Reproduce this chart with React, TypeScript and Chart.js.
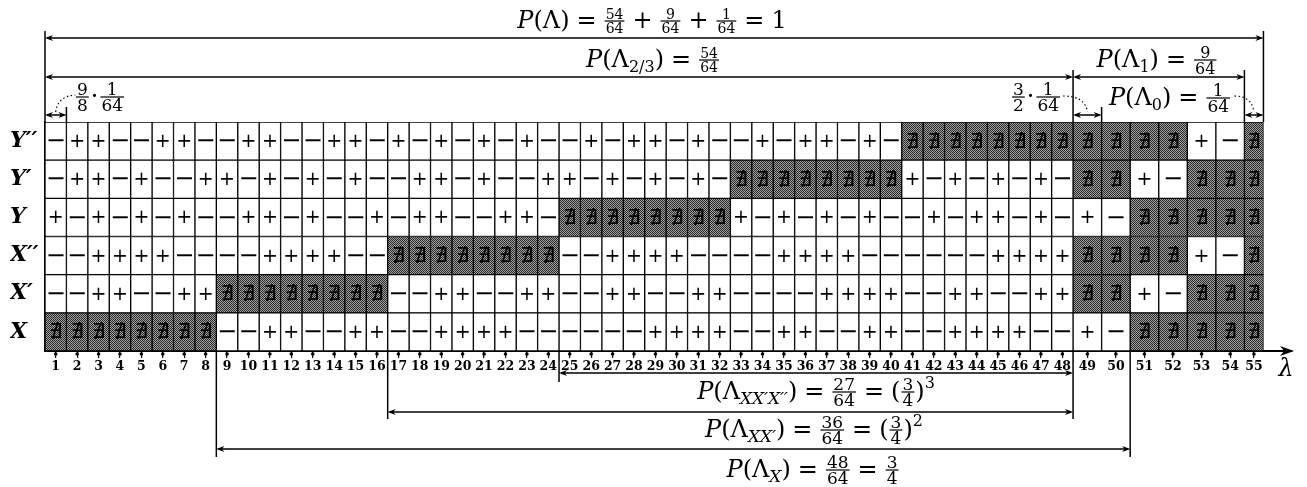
import React, { useEffect, useRef } from 'react';
import { Chart, registerables } from 'chart.js';
Chart.register(...registerables);

// ---- data ----
const rowLabels = ['Y′′', 'Y′', 'Y', 'X′′', 'X′', 'X'];
// '+' , '-' , 'x' (= ∄, shaded)
const rowYpp = '-++--++- -++--++- +-+-+-+- -+-++-+- -+-++-+- xxxxxxxx xxxx+-x';
const rowYp = '-++-+--+ +-+-+-+- -++-+--+ +-+-+-+- xxxxxxxx +-+-+-+- xx+-xxx';
const rowY = '+-+-+-+- -++-+--+ -++--++- xxxxxxxx +-+-+-+- -+-++-+- +-xxxxx';
const rowXpp = '--++++-- --++++-- xxxxxxxx --++++-- --++++-- ----++++ xxxx+-x';
const rowXp = '--++--++ xxxxxxxx --++--++ --++--++ ----++++ --++--++ xx+-xxx';
const rowX = 'xxxxxxxx --++--++ --++++-- ----++++ --++--++ --++++-- +-xxxxx';
// column measures in units of 1/64
const colWeights = [
  1.125, 1.125, 1.125, 1.125, 1.125, 1.125, 1.125, 1.125,
  1.125, 1.125, 1.125, 1.125, 1.125, 1.125, 1.125, 1.125,
  1.125, 1.125, 1.125, 1.125, 1.125, 1.125, 1.125, 1.125,
  1.125, 1.125, 1.125, 1.125, 1.125, 1.125, 1.125, 1.125,
  1.125, 1.125, 1.125, 1.125, 1.125, 1.125, 1.125, 1.125,
  1.125, 1.125, 1.125, 1.125, 1.125, 1.125, 1.125, 1.125,
  1.5, 1.5, 1.5, 1.5, 1.5, 1.5, 1,
];
const colLabels = colWeights.map((_, i) => String(i + 1));

const rows = [rowYpp, rowYp, rowY, rowXpp, rowXp, rowX].map((s) => s.replace(/ /g, '').split(''));
const starts: number[] = [];
{
  let acc = 0;
  colWeights.forEach((w) => { starts.push(acc); acc += w; });
}
const centers = colWeights.map((w, i) => starts[i] + w / 2);

// ---- math text helpers ----
const FF = '"DejaVu Serif", serif';
const MAIN = `24px ${FF}`;
const ITAL = `italic 24px ${FF}`;
const SUB = `16px ${FF}`;
const SUBIT = `italic 17px ${FF}`;

type Tok = { k: 't'; s: string; f: string; dy: number } | { k: 'fr'; n: string; d: string; z: number } | { k: 'sp'; w: number };
const t = (s: string, f = MAIN, dy = 0): Tok => ({ k: 't', s, f, dy });
const fr = (n: string, d: string, z = 15): Tok => ({ k: 'fr', n, d, z });
const sp = (w: number): Tok => ({ k: 'sp', w });
const op = (s: string): Tok[] => [sp(7), t(s), sp(7)];

function tokW(ctx: CanvasRenderingContext2D, tk: Tok) {
  if (tk.k === 'sp') return tk.w;
  if (tk.k === 't') { ctx.font = tk.f; return ctx.measureText(tk.s).width; }
  ctx.font = `${tk.z}px ${FF}`;
  return Math.max(ctx.measureText(tk.n).width, ctx.measureText(tk.d).width) + 4;
}
function drawMath(ctx: CanvasRenderingContext2D, toks: Tok[], cx: number, base: number) {
  const ws = toks.map((tk) => tokW(ctx, tk));
  let xx = cx - ws.reduce((a, b) => a + b, 0) / 2;
  ctx.textBaseline = 'alphabetic';
  toks.forEach((tk, i) => {
    const w = ws[i];
    if (tk.k === 't') {
      ctx.textAlign = 'left';
      ctx.font = tk.f;
      ctx.fillText(tk.s, xx, base + tk.dy);
    } else if (tk.k === 'fr') {
      const by = base - 7;
      ctx.fillRect(xx + 1, by - 0.6, w - 2, 1.2);
      ctx.font = `${tk.z}px ${FF}`;
      ctx.textAlign = 'center';
      ctx.fillText(tk.n, xx + w / 2, by - 2.5);
      ctx.fillText(tk.d, xx + w / 2, by + 2 + tk.z * 0.73);
    }
    xx += w;
  });
  ctx.textAlign = 'left';
}

const labelAll: Tok[] = [t('P', ITAL), t('(Λ)'), ...op('='), fr('54', '64', 14), ...op('+'), fr('9', '64', 14), ...op('+'), fr('1', '64', 14), ...op('='), t('1')];
const label23: Tok[] = [t('P', ITAL), t('(Λ'), t('2/3', SUB, 5), t(')'), ...op('='), fr('54', '64', 14)];
const label1: Tok[] = [t('P', ITAL), t('(Λ'), t('1', SUB, 5), t(')'), ...op('='), fr('9', '64', 16)];
const label0: Tok[] = [t('P', ITAL), t('(Λ'), t('0', SUB, 5), t(')'), ...op('='), fr('1', '64', 17)];
const labelNarrow: Tok[] = [fr('9', '8', 17), sp(1), t('·'), sp(1), fr('1', '64', 17)];
const labelMid: Tok[] = [fr('3', '2', 17), sp(1), t('·'), sp(1), fr('1', '64', 17)];
const labelXXX: Tok[] = [t('P', ITAL), t('(Λ'), t('XX′X′′', SUBIT, 5), t(')'), ...op('='), fr('27', '64', 17), ...op('='), t('('), fr('3', '4', 17), t(')'), t('3', SUB, -11)];
const labelXX: Tok[] = [t('P', ITAL), t('(Λ'), t('XX′', SUBIT, 5), t(')'), ...op('='), fr('36', '64', 17), ...op('='), t('('), fr('3', '4', 17), t(')'), t('2', SUB, -11)];
const labelX: Tok[] = [t('P', ITAL), t('(Λ'), t('X', SUBIT, 5), t(')'), ...op('='), fr('48', '64', 17), ...op('='), fr('3', '4', 17)];

function head(ctx: CanvasRenderingContext2D, x: number, y: number, dir: number, len = 8, hw = 3) {
  ctx.beginPath();
  ctx.moveTo(x, y);
  ctx.lineTo(x - dir * len, y - hw);
  ctx.lineTo(x - dir * len * 0.7, y);
  ctx.lineTo(x - dir * len, y + hw);
  ctx.closePath();
  ctx.fill();
}
function hArrow(ctx: CanvasRenderingContext2D, x1: number, x2: number, y: number) {
  ctx.beginPath();
  ctx.moveTo(x1 + 2, y);
  ctx.lineTo(x2 - 2, y);
  ctx.stroke();
  head(ctx, x1, y, -1);
  head(ctx, x2, y, 1);
}
function vLine(ctx: CanvasRenderingContext2D, x: number, y1: number, y2: number) {
  ctx.beginPath();
  ctx.moveTo(x, y1);
  ctx.lineTo(x, y2);
  ctx.stroke();
}

const cellTextPlugin = {
  id: 'cellText',
  afterDatasetsDraw(chart: any) {
    const { ctx, scales: { x, y } } = chart;
    ctx.save();
    ctx.fillStyle = '#000';
    ctx.textAlign = 'center';
    ctx.textBaseline = 'middle';
    rows.forEach((r, i) => {
      const py = y.getPixelForValue(i);
      r.forEach((s, c) => {
        const px = x.getPixelForValue(centers[c]);
        if (s === '+') { ctx.font = '19px "DejaVu Sans"'; ctx.fillText('+', px, py + 1); }
        else if (s === '-') { ctx.font = '24px "DejaVu Sans"'; ctx.fillText('−', px, py + 1); }
        else { ctx.font = 'italic 21px "DejaVu Sans"'; ctx.fillText('∄', px, py + 1); }
      });
    });
    ctx.restore();
  },
};

const annotPlugin = {
  id: 'annot',
  afterDraw(chart: any) {
    const { ctx, scales: { x }, chartArea } = chart;
    const X = (v: number) => x.getPixelForValue(v);
    const xL = X(0);
    const xT = X(64);
    const x23 = X(starts[48]);
    const x1e = X(starts[54]);
    const c1 = X(starts[1]);
    const c49 = X(starts[49]);
    const cX = X(starts[8]);
    const cXX = X(starts[16]);
    const cXXX = X(starts[24]);
    const cXend = X(starts[50]);
    const top = chartArea.top;
    const bot = chartArea.bottom;
    ctx.save();
    ctx.strokeStyle = '#000';
    ctx.fillStyle = '#000';
    ctx.lineWidth = 1.5;
    // top brackets
    vLine(ctx, xL, 31, top);
    vLine(ctx, xT, 31, top);
    vLine(ctx, x23, 70, top);
    vLine(ctx, x1e, 70, top);
    vLine(ctx, c1, 107, top);
    vLine(ctx, c49, 107, top);
    hArrow(ctx, xL, xT, 38);
    hArrow(ctx, xL, x23, 77);
    hArrow(ctx, x23, x1e, 77);
    hArrow(ctx, xL, c1, 115);
    hArrow(ctx, x23, c49, 115);
    hArrow(ctx, x1e, xT, 115);
    // bottom brackets
    vLine(ctx, cXXX, bot, 382);
    vLine(ctx, x23, bot, 419);
    vLine(ctx, cXX, bot, 419);
    vLine(ctx, cX, bot, 457);
    vLine(ctx, cXend, bot, 457);
    hArrow(ctx, cXXX, x23, 373);
    hArrow(ctx, cXX, x23, 412);
    hArrow(ctx, cX, cXend, 449);
    // axis arrow
    head(ctx, chartArea.right + 2, bot, 1, 14, 5);
    ctx.font = `italic 24px ${FF}`;
    ctx.textAlign = 'center';
    ctx.textBaseline = 'alphabetic';
    ctx.fillText('λ', chartArea.right - 6, 376);
    // tick dots
    centers.forEach((c) => {
      ctx.beginPath();
      ctx.arc(X(c), bot + 3, 1.8, 0, Math.PI * 2);
      ctx.fill();
    });
    // dotted leaders
    ctx.setLineDash([1.5, 2.5]);
    ctx.lineWidth = 1.2;
    ctx.beginPath();
    ctx.moveTo((xL + c1) / 2, 112);
    ctx.quadraticCurveTo((xL + c1) / 2 + 2, 96, c1 + 9, 95);
    ctx.stroke();
    ctx.beginPath();
    ctx.moveTo(x23 - 10, 96);
    ctx.quadraticCurveTo((x23 + c49) / 2 - 2, 96, (x23 + c49) / 2, 112);
    ctx.stroke();
    ctx.beginPath();
    ctx.moveTo(x1e - 10, 96);
    ctx.quadraticCurveTo((x1e + xT) / 2 - 2, 96, (x1e + xT) / 2, 112);
    ctx.stroke();
    ctx.setLineDash([]);
    // labels
    drawMath(ctx, labelAll, 652, 28);
    drawMath(ctx, label23, 653, 67);
    drawMath(ctx, label1, 1157, 67);
    drawMath(ctx, label0, 1170, 105);
    drawMath(ctx, labelNarrow, 100, 104);
    drawMath(ctx, labelMid, 1036, 104);
    drawMath(ctx, labelXXX, 816, 399);
    drawMath(ctx, labelXX, 814, 437);
    drawMath(ctx, labelX, 813, 477);
    ctx.restore();
  },
};

export default function App() {
  const ref = useRef<HTMLCanvasElement>(null);
  useEffect(() => {
    const canvas = ref.current!;
    const ctx = canvas.getContext('2d')!;
    const pc = document.createElement('canvas');
    pc.width = 2;
    pc.height = 2;
    const p = pc.getContext('2d')!;
    p.fillStyle = '#a0a0a0';
    p.fillRect(0, 0, 2, 2);
    p.fillStyle = '#2a2a2a';
    p.fillRect(0, 0, 1, 1);
    p.fillRect(1, 1, 1, 1);
    const pattern = ctx.createPattern(pc, 'repeat')!;

    const datasets = colWeights.map((w, c) => ({
      label: colLabels[c],
      data: rows.map(() => [starts[c], starts[c] + w]),
      backgroundColor: rows.map((r) => (r[c] === 'x' ? pattern : '#ffffff')),
      borderColor: '#000',
      borderWidth: 1,
      borderSkipped: false,
      barPercentage: 1,
      categoryPercentage: 1,
      grouped: false,
    }));

    const chart = new Chart(canvas, {
      type: 'bar',
      data: { labels: rowLabels, datasets: datasets as any },
      options: {
        indexAxis: 'y',
        responsive: false,
        animation: false,
        layout: { padding: { top: 122, right: 15, left: 10, bottom: 0 } },
        plugins: { legend: { display: false }, tooltip: { enabled: false } },
        scales: {
          x: {
            type: 'linear',
            min: 0,
            max: 65.5,
            afterFit: (s: any) => { s.height = 136; },
            afterBuildTicks: (s: any) => { s.ticks = centers.map((v) => ({ value: v })); },
            ticks: {
              autoSkip: false,
              maxRotation: 0,
              minRotation: 0,
              padding: 1,
              color: '#000',
              font: { family: 'DejaVu Serif', size: 12.5, weight: 'bold' },
              callback: (_v: any, i: number) => colLabels[i],
            },
            grid: { display: true, drawOnChartArea: false, drawTicks: true, tickLength: 7, color: '#000', lineWidth: 1.2 },
            border: { display: true, color: '#000', width: 2 },
          },
          y: {
            type: 'category',
            afterFit: (s: any) => { s.width = 35; },
            ticks: {
              crossAlign: 'far',
              padding: 0,
              color: '#000',
              font: { family: 'DejaVu Serif', size: 22, style: 'italic', weight: 'bold' },
            },
            grid: { display: false, drawTicks: false },
            border: { display: true, color: '#000', width: 1.5 },
          },
        },
      } as any,
      plugins: [cellTextPlugin, annotPlugin],
    });
    return () => chart.destroy();
  }, []);
  return (
    <div style={{ position: 'fixed', left: 0, top: 0, width: 1307, height: 487, background: '#fff' }}>
      <canvas ref={ref} width={1307} height={487} style={{ display: 'block', width: 1307, height: 487 }} />
    </div>
  );
}
